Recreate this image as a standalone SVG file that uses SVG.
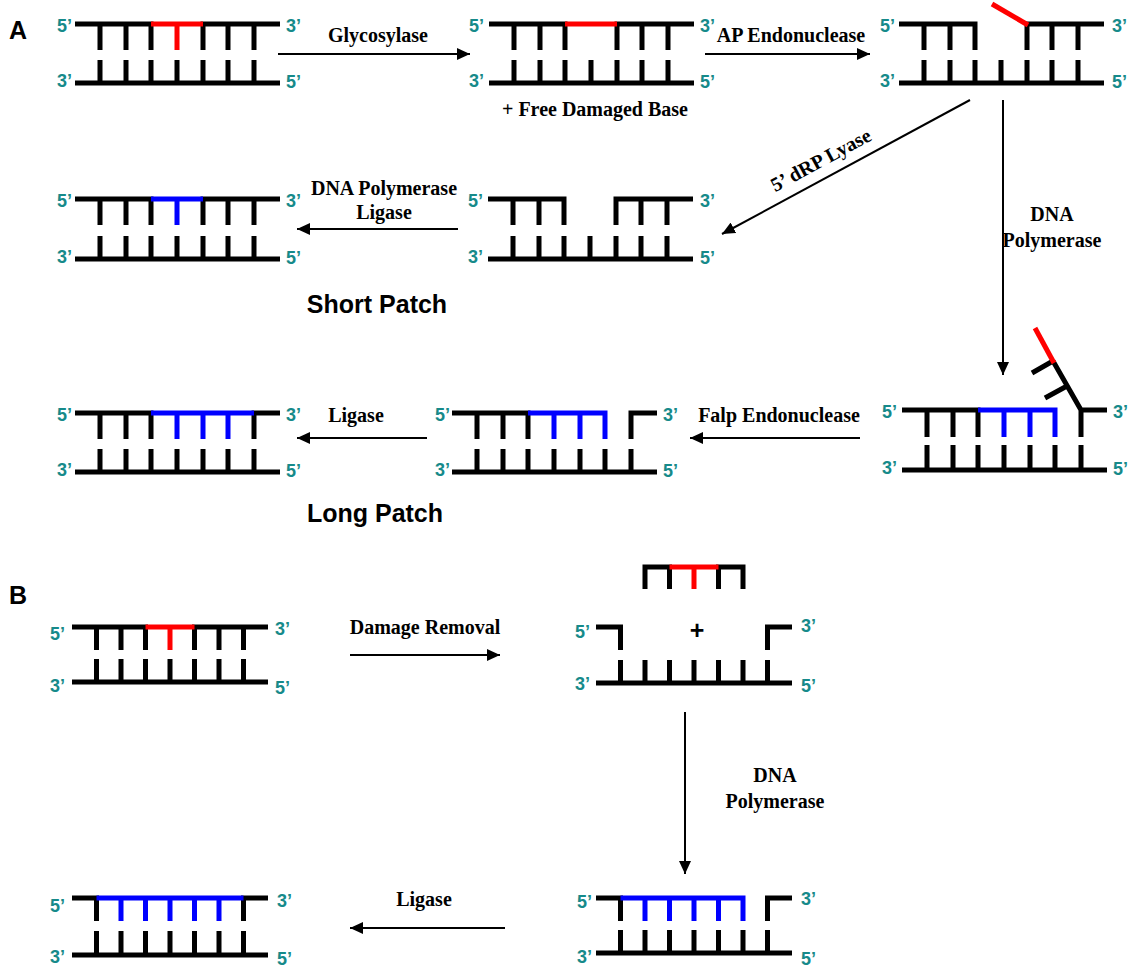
<svg xmlns="http://www.w3.org/2000/svg" width="1131" height="969" viewBox="0 0 1131 969">
<defs>
<style>
.k{fill:none;stroke:#000;stroke-width:5}
.r{fill:none;stroke:#f00;stroke-width:5}
.b{fill:none;stroke:#00f;stroke-width:5}
.e{font-family:"Liberation Sans",Arial,sans-serif;font-weight:bold;font-size:18px;fill:#168a8a}
.t{font-family:"Liberation Serif","Times New Roman",serif;font-weight:bold;font-size:20px;fill:#000}
.h{font-family:"Liberation Sans",Arial,sans-serif;font-weight:bold;font-size:25px;fill:#000}
.c{fill:none;stroke:#000;stroke-width:2}
</style>
<marker id="ah" markerUnits="userSpaceOnUse" markerWidth="14" markerHeight="12" refX="13" refY="6" orient="auto">
<path d="M0,0 L13,6 L0,12 z" fill="#000"/>
</marker>
</defs>
<rect width="1131" height="969" fill="#fff"/>
<text class="h" x="9" y="39" font-size="28">A</text>
<text class="h" x="9" y="604" font-size="28">B</text>

<g id="a1">
<path class="k" d="M75 24H151V50M203 50V24H280M100 24V50M126 24V50M228 24V50M254 24V50M75 83H280M100 83V60M126 83V60M151 83V60M177 83V60M203 83V60M228 83V60M254 83V60"/>
<path class="r" d="M151 24H203M177 24V50"/>
<text class="e" x="72" y="32" text-anchor="end">5’</text><text class="e" x="286" y="32">3’</text>
<text class="e" x="72" y="87" text-anchor="end">3’</text><text class="e" x="286" y="88">5’</text>
</g>
<g id="a2">
<path class="k" d="M489 24H565V50M617 50V24H694M514 24V50M540 24V50M642 24V50M668 24V50M489 83H694M514 83V60M540 83V60M565 83V60M591 83V60M617 83V60M642 83V60M668 83V60"/>
<path class="r" d="M565 24H617"/>
<text class="e" x="484" y="32" text-anchor="end">5’</text><text class="e" x="700" y="32">3’</text>
<text class="e" x="484" y="87" text-anchor="end">3’</text><text class="e" x="700" y="88">5’</text>
<text class="t" x="595" y="116" text-anchor="middle">+ Free Damaged Base</text>
</g>
<g id="a3">
<path class="k" d="M899 24H975V50M1027 50V24H1104M924 24V50M950 24V50M1052 24V50M1078 24V50M899 83H1104M924 83V60M950 83V60M975 83V60M1001 83V60M1027 83V60M1052 83V60M1078 83V60"/>
<path class="r" d="M1028 25L992 4"/>
<text class="e" x="895" y="32" text-anchor="end">5’</text><text class="e" x="1112" y="32">3’</text>
<text class="e" x="895" y="87" text-anchor="end">3’</text><text class="e" x="1112" y="88">5’</text>
</g>
<g id="a4">
<path class="k" d="M75 199H151V225M203 225V199H280M100 199V225M126 199V225M228 199V225M254 199V225M75 259H280M100 259V236M126 259V236M151 259V236M177 259V236M203 259V236M228 259V236M254 259V236"/>
<path class="b" d="M151 199H203M177 199V225"/>
<text class="e" x="72" y="207" text-anchor="end">5’</text><text class="e" x="286" y="207">3’</text>
<text class="e" x="72" y="263" text-anchor="end">3’</text><text class="e" x="286" y="264">5’</text>
<text class="h" x="377" y="313" text-anchor="middle">Short Patch</text>
</g>
<g id="a5">
<path class="k" d="M488 199H564V225M616 225V199H693M513 199V225M539 199V225M641 199V225M667 199V225M488 259H693M513 259V236M539 259V236M564 259V236M590 259V236M616 259V236M641 259V236M667 259V236"/>
<text class="e" x="483" y="207" text-anchor="end">5’</text><text class="e" x="700" y="207">3’</text>
<text class="e" x="483" y="263" text-anchor="end">3’</text><text class="e" x="700" y="264">5’</text>
</g>
<g id="a6">
<path class="k" d="M75 413H151V439M254 439V413H280M100 413V439M126 413V439M75 472H280M100 472V449M126 472V449M151 472V449M177 472V449M203 472V449M228 472V449M254 472V449"/>
<path class="b" d="M151 413H254M177 413V439M203 413V439M228 413V439"/>
<text class="e" x="72" y="421" text-anchor="end">5’</text><text class="e" x="286" y="421">3’</text>
<text class="e" x="72" y="476" text-anchor="end">3’</text><text class="e" x="286" y="477">5’</text>
<text class="h" x="375" y="522" text-anchor="middle">Long Patch</text>
</g>
<g id="a7">
<path class="k" d="M452 413H528V439M631 439V413H657M477 413V439M503 413V439M452 472H657M477 472V449M503 472V449M528 472V449M554 472V449M580 472V449M605 472V449M631 472V449"/>
<path class="b" d="M528 413H605V439M554 413V439M580 413V439"/>
<text class="e" x="450" y="421" text-anchor="end">5’</text><text class="e" x="663" y="421">3’</text>
<text class="e" x="450" y="476" text-anchor="end">3’</text><text class="e" x="663" y="477">5’</text>
</g>
<g id="a8">
<path class="k" d="M902 410H978V437M927 410V437M953 410V437M1081 437V410H1107M1081 410L1053 361M1067 386L1045 398M1053 361L1032 373M902 470H1107M927 470V445M953 470V445M978 470V445M1004 470V445M1030 470V445M1055 470V445M1081 470V445"/>
<path class="b" d="M978 410H1055V437M1004 410V437M1030 410V437"/>
<path class="r" d="M1054 363L1035 328"/>
<text class="e" x="897" y="418" text-anchor="end">5’</text><text class="e" x="1113" y="418">3’</text>
<text class="e" x="897" y="474" text-anchor="end">3’</text><text class="e" x="1113" y="475">5’</text>
</g>

<g id="b1">
<path class="k" d="M72 627H145.5V650M194.5 650V627H268M96.5 627V650M121 627V650M219 627V650M243.5 627V650M72 682H268M96.5 682V659M121 682V659M145.5 682V659M170 682V659M194.5 682V659M219 682V659M243.5 682V659"/>
<path class="r" d="M145.5 627H194.5M170 627V650"/>
<text class="e" x="65" y="640" text-anchor="end">5’</text><text class="e" x="275" y="635">3’</text>
<text class="e" x="65" y="692" text-anchor="end">3’</text><text class="e" x="275" y="694">5’</text>
</g>
<g id="b2">
<path class="k" d="M645 589V567H669.5V589M718.5 589V567H743V589"/>
<path class="r" d="M669.5 567H718.5M694 567V589"/>
<text class="h" x="697" y="639" text-anchor="middle" font-size="32">+</text>
<path class="k" d="M596 627H620.5V650M767.5 650V627H792M596 683H792M620.5 683V660M645 683V660M669.5 683V660M694 683V660M718.5 683V660M743 683V660M767.5 683V660"/>
<text class="e" x="590" y="638" text-anchor="end">5’</text><text class="e" x="801" y="632">3’</text>
<text class="e" x="590" y="690" text-anchor="end">3’</text><text class="e" x="801" y="692">5’</text>
</g>
<g id="b3">
<path class="k" d="M72 898H96.5V921M268 898H243.5V921M72 955H268M96.5 955V931M121 955V931M145.5 955V931M170 955V931M194.5 955V931M219 955V931M243.5 955V931"/>
<path class="b" d="M96.5 898H243.5M121 898V921M145.5 898V921M170 898V921M194.5 898V921M219 898V921"/>
<text class="e" x="65" y="912" text-anchor="end">5’</text><text class="e" x="277" y="907">3’</text>
<text class="e" x="65" y="963" text-anchor="end">3’</text><text class="e" x="277" y="965">5’</text>
</g>
<g id="b4">
<path class="k" d="M596 898H620.5V921M767.5 921V898H792M596 953H792M620.5 953V930M645 953V930M669.5 953V930M694 953V930M718.5 953V930M743 953V930M767.5 953V930"/>
<path class="b" d="M620.5 898H743V921M645 898V921M669.5 898V921M694 898V921M718.5 898V921"/>
<text class="e" x="592" y="908" text-anchor="end">5’</text><text class="e" x="801" y="905">3’</text>
<text class="e" x="592" y="963" text-anchor="end">3’</text><text class="e" x="801" y="965">5’</text>
</g>

<g id="connectors">
<path class="c" d="M278 54H470" marker-end="url(#ah)"/>
<text class="t" x="378" y="42" text-anchor="middle">Glycosylase</text>
<path class="c" d="M705 54H870" marker-end="url(#ah)"/>
<text class="t" x="791" y="42" text-anchor="middle">AP Endonuclease</text>
<path class="c" d="M970 100L722 234" marker-end="url(#ah)"/>
<text class="t" x="824" y="166" text-anchor="middle" font-size="21" transform="rotate(-28.4 824 166)">5’ dRP Lyase</text>
<path class="c" d="M1003 100V375" marker-end="url(#ah)"/>
<text class="t" x="1052" y="221" text-anchor="middle">DNA</text>
<text class="t" x="1052" y="247" text-anchor="middle">Polymerase</text>
<path class="c" d="M458 229H297" marker-end="url(#ah)"/>
<text class="t" x="384" y="195" text-anchor="middle">DNA Polymerase</text>
<text class="t" x="384" y="219" text-anchor="middle">Ligase</text>
<path class="c" d="M860 438H690" marker-end="url(#ah)"/>
<text class="t" x="779" y="422" text-anchor="middle">Falp Endonuclease</text>
<path class="c" d="M427 438H297" marker-end="url(#ah)"/>
<text class="t" x="356" y="422" text-anchor="middle">Ligase</text>
<path class="c" d="M350 655H500" marker-end="url(#ah)"/>
<text class="t" x="425" y="634" text-anchor="middle" font-size="22">Damage Removal</text>
<path class="c" d="M685 712V874" marker-end="url(#ah)"/>
<text class="t" x="775" y="782" text-anchor="middle">DNA</text>
<text class="t" x="775" y="808" text-anchor="middle">Polymerase</text>
<path class="c" d="M505 928H350" marker-end="url(#ah)"/>
<text class="t" x="424" y="906" text-anchor="middle" font-size="22">Ligase</text>
</g>
</svg>
